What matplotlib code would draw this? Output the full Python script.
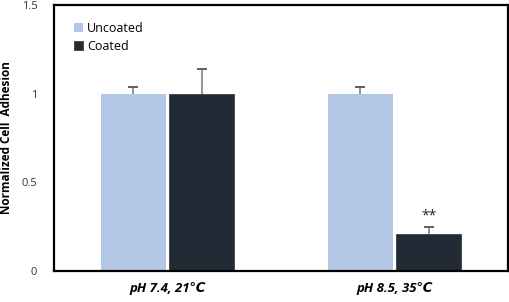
import matplotlib.pyplot as plt
import numpy as np

groups = ["pH 7.4, 21\u2103", "pH 8.5, 35\u2103"]
uncoated = [1.0, 1.0]
uncoated_err = [0.04, 0.04]
coated = [1.0, 0.21]
coated_err = [0.14, 0.04]

plt.rcParams['font.family'] = ['Open Sans', 'DejaVu Sans']

fig = plt.figure(figsize=(5.1, 3.02), dpi=100)
ax = fig.add_axes([54 / 510, 1 - 271 / 302, 454 / 510, 266 / 302])

x = np.arange(len(groups))
w = 0.285
ax.bar(x - 0.15, uncoated, w, color='#b4c7e7', label='Uncoated', zorder=2)
ax.bar(x + 0.15, coated, w, color='#222a35', edgecolor='#3a3f48', linewidth=0.6,
       label='Coated', zorder=2)

# upper-only error bars
for xs, vals, errs in [(x - 0.15, uncoated, uncoated_err), (x + 0.15, coated, coated_err)]:
    tops = np.array(vals) + np.array(errs)
    ax.vlines(xs, vals, tops, color='#808080', linewidth=1.2, zorder=3)
    ax.plot(xs, tops, linestyle='none', marker='_', markersize=7, mew=1.4,
            color='#606060', zorder=3)

ax.text(x[1] + 0.15, coated[1] + coated_err[1] + 0.02, '**', ha='center', va='bottom',
        fontsize=10, color='#222222')

ax.set_xlim(-0.5, 1.5)
ax.set_ylim(0, 1.5)
ax.set_yticks([0, 0.5, 1, 1.5])
ax.set_yticklabels(['0', '0.5', '1', '1.5'])
ax.set_xticks(x)
ax.set_xticklabels(groups, fontsize=9.5, fontweight='bold', style='italic')
ax.tick_params(axis='y', length=0, labelsize=8, pad=12, labelcolor='#333333')
ax.tick_params(axis='x', length=0, pad=8)
for s in ax.spines.values():
    s.set_linewidth(1.6)
    s.set_color('black')

ax.set_ylabel('Normalized Cell  Adhesion', fontsize=8.5, fontweight='bold', labelpad=6)

ax.legend(loc='upper left', bbox_to_anchor=(0.02, 0.98), frameon=False, fontsize=9,
          handlelength=0.7, handleheight=0.7, handletextpad=0.3, labelspacing=0.45)

fig.savefig('out.png', dpi=100)
